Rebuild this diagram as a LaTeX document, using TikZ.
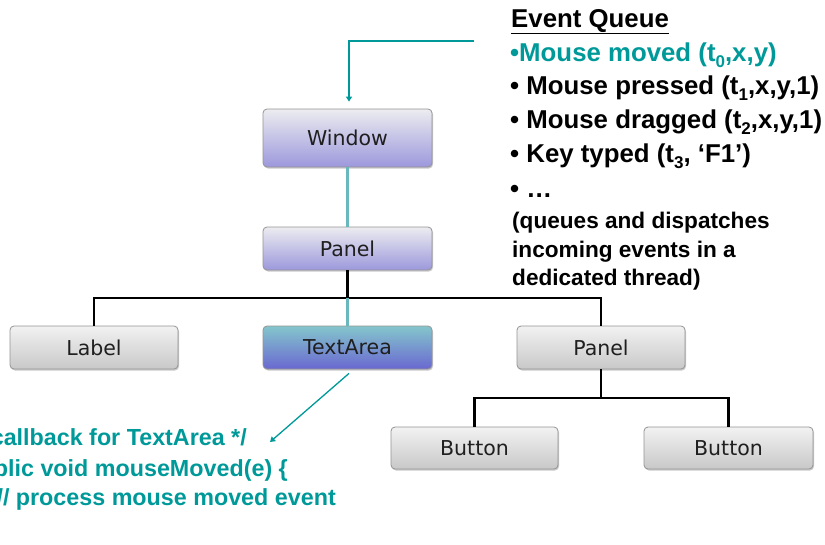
\documentclass[tikz,border=0pt]{standalone}
\usepackage{fontspec}
\setmainfont{Liberation Sans}
\newfontfamily\boxfont{DejaVu Sans}
\usetikzlibrary{arrows.meta,shadows}

\definecolor{evteal}{RGB}{0,153,153}
\definecolor{linkteal}{RGB}{104,184,190}
\definecolor{boxgrayT}{RGB}{242,242,242}
\definecolor{boxgrayB}{RGB}{200,200,200}
\definecolor{lavT}{RGB}{236,236,240}
\definecolor{lavB}{RGB}{156,152,220}
\definecolor{selT}{RGB}{132,198,204}
\definecolor{selB}{RGB}{106,104,208}

% time-stamp index, set a little lower than the baseline
\newcommand\evsub[1]{\raisebox{-0.24em}{\fontsize{17}{17}\selectfont #1}}

\tikzset{
  widget/.style={draw=black!42, line width=0.8pt, rounded corners=4pt,
    inner sep=0pt, text=black!88,
    font=\boxfont\fontsize{20.5}{24}\selectfont,
    minimum width=169pt, minimum height=43pt,
    drop shadow={shadow xshift=1pt, shadow yshift=-1.5pt, opacity=0.35, fill=black!60}},
  plainwidget/.style={widget, top color=boxgrayT, bottom color=boxgrayB},
  pathwidget/.style={widget, top color=lavT, bottom color=lavB},
  selwidget/.style={widget, top color=selT, bottom color=selB},
  treeline/.style={draw=black, line width=2.6pt},
  pathline/.style={draw=linkteal, line width=2.8pt},
  callout/.style={draw=evteal, line width=1.3pt, -{Triangle[width=6pt,length=5pt]}},
  queuehead/.style={anchor=base west, inner sep=0pt, font=\bfseries\fontsize{25.8}{30}\selectfont},
  queuenote/.style={anchor=base west, inner sep=0pt, font=\bfseries\fontsize{22.6}{27}\selectfont},
  codeline/.style={anchor=base east, inner sep=0pt, text=evteal, font=\bfseries\fontsize{23.3}{27}\selectfont}
}

\begin{document}
\begin{tikzpicture}[x=1pt, y=-1pt]
\useasboundingbox (0,0) rectangle (825,544);
\clip (0,0) rectangle (825,544);

% component tree
\node[pathwidget, minimum height=58pt] (window) at (347.5,138) {Window};
\node[pathwidget] (panelA) at (347.5,248.5) {Panel};
\node[plainwidget, minimum width=168pt] (label) at (94,347.5) {Label};
\node[selwidget] (textarea) at (347.5,347.5) {TextArea};
\node[plainwidget, minimum width=168pt] (panelB) at (601,347.5) {Panel};
\node[plainwidget, minimum width=167pt, minimum height=42pt] (buttonA) at (474.5,448) {Button};
\node[plainwidget, minimum width=169pt, minimum height=42pt] (buttonB) at (728.5,448) {Button};

\coordinate (barA) at (347.5,298);
\coordinate (barB) at (601,398);

\draw[pathline] (window.south) -- (panelA.north);
\draw[treeline] (panelA.south) -- (barA);
\draw[treeline] (barA) -| (label.north);
\draw[treeline] (barA) -| (panelB.north);
\draw[pathline] (barA) -- (textarea.north);
\draw[treeline] (panelB.south) -- (barB);
\draw[treeline] (barB) -| (buttonA.north);
\draw[treeline] (barB) -| (buttonB.north);

% event queue
\node[queuehead] (q0) at (511,27) {\underline{Event Queue}};
\node[queuehead, text=evteal] (q1) at (510,61) {•Mouse moved (t\evsub{0},x,y)};
\node[queuehead] (q2) at (510,94) {• Mouse pressed (t\evsub{1},x,y,1)};
\node[queuehead] (q3) at (510,128) {• Mouse dragged (t\evsub{2},x,y,1)};
\node[queuehead] (q4) at (510,162) {• Key typed (t\evsub{3}, ‘F1’)};
\node[queuehead] (q5) at (510,197) {• …};
\node[queuenote] (q6) at (512,228) {(queues and dispatches};
\node[queuenote] (q7) at (512,257) {incoming events in a};
\node[queuenote] (q8) at (512,285) {dedicated thread)};

% dispatch to the window
\coordinate (queueEnd) at (474,41);
\draw[callout] (queueEnd) -| ([xshift=1.5pt,yshift=7pt]window.north);

% callback code
\node[codeline] (c1) at (247,445) {/* callback for TextArea */};
\node[codeline] (c2) at (288,476) {public void mouseMoved(e) \{};
\node[codeline] (c3) at (336,505) {// process mouse moved event};
\coordinate (cbTip) at (270,442);
\draw[callout] ([xshift=1.5pt,yshift=-4pt]textarea.south) -- (cbTip);
\end{tikzpicture}
\end{document}
